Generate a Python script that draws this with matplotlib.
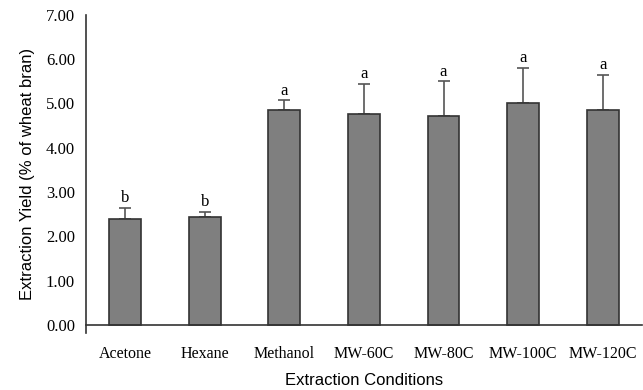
import numpy as np
import matplotlib.pyplot as plt

conditions = ['Acetone', 'Hexane', 'Methanol', 'MW-60C', 'MW-80C', 'MW-100C', 'MW-120C']
yields = [2.40, 2.43, 4.85, 4.77, 4.72, 5.01, 4.85]
errors = [0.25, 0.13, 0.23, 0.68, 0.78, 0.80, 0.80]
letters = ['b', 'b', 'a', 'a', 'a', 'a', 'a']
yticks = [0, 1, 2, 3, 4, 5, 6, 7]

serif = 'Liberation Serif'
sans = 'Liberation Sans'

fig = plt.figure(figsize=(6.43, 3.90), dpi=100)
ax = fig.add_axes([0.134, 0.147, 0.864, 0.815])

# spine position first: moving it resets the ticks
ax.spines['top'].set_visible(False)
ax.spines['right'].set_visible(False)
ax.spines['bottom'].set_position(('data', 0))
for s in ('left', 'bottom'):
    ax.spines[s].set_linewidth(1.2)
    ax.spines[s].set_color('#333333')

x = np.arange(len(conditions))
ax.bar(x, yields, width=0.4, color='#7f7f7f', edgecolor='#333333', linewidth=1.2, zorder=2)
ax.errorbar(x, yields, yerr=[np.zeros(len(errors)), errors], fmt='none',
            ecolor='#555555', elinewidth=1.2, capsize=4, capthick=1.2, zorder=1)

for xi, y, e, lab in zip(x, yields, errors, letters):
    ax.annotate(lab, (xi, y + e), xytext=(0, 1), textcoords='offset points',
                ha='center', va='bottom', fontsize=12, family=serif)

ax.set_xlim(-0.49, 6.49)
ax.set_ylim(-0.17, 7)
ax.set_yticks(yticks)
ax.set_yticklabels(['%.2f' % t for t in yticks], family=serif, fontsize=12)
ax.set_yticks([0], minor=True)
ax.tick_params(axis='y', which='major', length=0, pad=8)
ax.tick_params(axis='y', which='minor', length=6, width=1.2, color='#333333')
ax.set_xticks(x)
ax.set_xticklabels(conditions, family=serif, fontsize=11.5)
ax.tick_params(axis='x', length=0, pad=15)

ax.set_xlabel('Extraction Conditions', family=sans, fontsize=12, labelpad=8)
ax.set_ylabel('Extraction Yield (% of wheat bran)', family=sans, fontsize=12, labelpad=8)

fig.savefig('out.png', dpi=100)
